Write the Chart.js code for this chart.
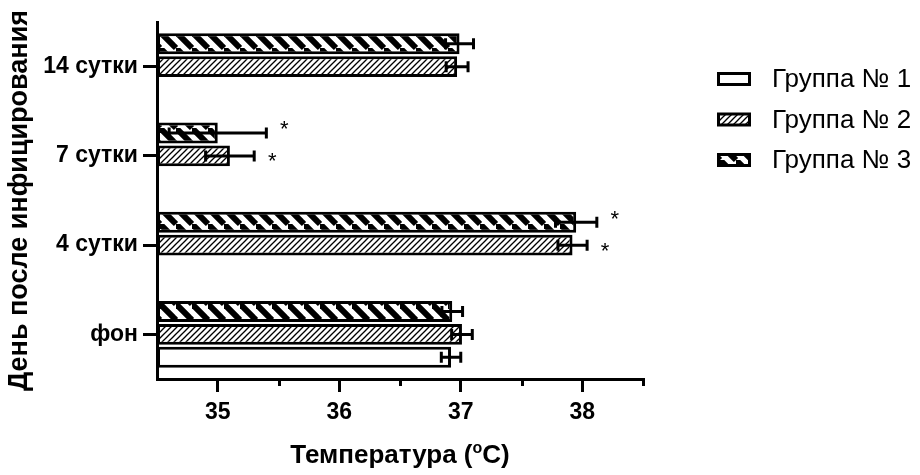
<!DOCTYPE html>
<html>
<head>
<meta charset="utf-8">
<script src="https://cdn.jsdelivr.net/npm/chart.js@4"></script>
<style>
  html, body { margin: 0; padding: 0; background: #fff; }
</style>
</head>
<body>
<canvas id="chart" width="920" height="475"></canvas>
<script>
// categories listed top to bottom
const categories = ['14 сутки', '7 сутки', '4 сутки', 'фон'];
const groupNames = ['Группа № 1', 'Группа № 2', 'Группа № 3'];

const group1 = [null, null, null, 36.92];
const group2 = [36.97, 35.10, 37.92, 37.01];
const group3 = [36.99, 35.00, 37.95, 36.93];

const group1Err = [null, null, null, 0.08];
const group2Err = [0.09, 0.20, 0.12, 0.085];
const group3Err = [0.115, 0.40, 0.17, 0.085];

// significance marks (*)
const group2Star = [false, true, true, false];
const group3Star = [false, true, true, false];

const xMin = 34.5;
const xMax = 38.5;
const xTicks = [35, 36, 37, 38];
const xMinorTicks = [35.5, 36.5, 37.5, 38.5];

const FONT = 'Arial, "Liberation Sans", sans-serif';

function makePattern(size, lineWidth, lines) {
    const c = document.createElement('canvas');
    c.width = size;
    c.height = size;
    const g = c.getContext('2d');
    g.fillStyle = '#fff';
    g.fillRect(0, 0, size, size);
    g.strokeStyle = '#000';
    g.lineWidth = lineWidth;
    lines.forEach(([x1, y1, x2, y2]) => {
        g.beginPath();
        g.moveTo(x1, y1);
        g.lineTo(x2, y2);
        g.stroke();
    });
    return g.createPattern(c, 'repeat');
}

// thin "/" hatch
const thinHatch = makePattern(6, 1.3, [[-6, 6, 6, -6], [0, 6, 6, 0], [0, 12, 12, 0]]);
// thick "\" stripes
const thickHatch = makePattern(16, 6, [[0, 0, 16, 16], [-16, 0, 0, 16], [0, -16, 16, 0]]);

const fills = ['#fff', thinHatch, thickHatch];

// datasets top to bottom inside a group: group 3, group 2, group 1
const series = [
    { idx: 2, values: group3, errors: group3Err, stars: group3Star },
    { idx: 1, values: group2, errors: group2Err, stars: group2Star },
    { idx: 0, values: group1, errors: group1Err, stars: null }
];

const extras = {
    id: 'extras',
    afterDatasetsDraw(chart) {
        const ctx = chart.ctx;
        const xs = chart.scales.x;
        ctx.save();
        ctx.strokeStyle = '#000';
        ctx.fillStyle = '#000';
        ctx.lineWidth = 3;
        series.forEach((s, di) => {
            const meta = chart.getDatasetMeta(di);
            s.values.forEach((v, i) => {
                if (v == null) return;
                const y = meta.data[i].y;
                const lo = xs.getPixelForValue(v - s.errors[i]);
                const hi = xs.getPixelForValue(v + s.errors[i]);
                ctx.beginPath();
                ctx.moveTo(lo, y);
                ctx.lineTo(hi, y);
                ctx.moveTo(lo, y - 5.5);
                ctx.lineTo(lo, y + 5.5);
                ctx.moveTo(hi, y - 5.5);
                ctx.lineTo(hi, y + 5.5);
                ctx.stroke();
                if (s.stars && s.stars[i]) {
                    ctx.font = '22px ' + FONT;
                    ctx.textAlign = 'center';
                    ctx.textBaseline = 'alphabetic';
                    const raise = s.idx === 2 ? 9 : 0;
                    ctx.fillText('*', hi + 18, y + 12.5 - raise);
                }
            });
        });
        ctx.restore();
    },
    afterDraw(chart) {
        const ctx = chart.ctx;
        const xs = chart.scales.x;
        const area = chart.chartArea;
        ctx.save();
        // minor ticks
        ctx.strokeStyle = '#000';
        ctx.lineWidth = 3;
        xMinorTicks.forEach(v => {
            const px = Math.round(xs.getPixelForValue(v)) + 0.5;
            ctx.beginPath();
            ctx.moveTo(px, area.bottom);
            ctx.lineTo(px, area.bottom + 7);
            ctx.stroke();
        });

        // x axis title with superscript
        ctx.fillStyle = '#000';
        ctx.textBaseline = 'alphabetic';
        ctx.textAlign = 'left';
        const bigFont = 'bold 26px ' + FONT;
        const supFont = 'bold 16px ' + FONT;
        const p1 = 'Температура (';
        const p2 = 'o';
        const p3 = 'C)';
        ctx.font = bigFont;
        const w1 = ctx.measureText(p1).width;
        const w3 = ctx.measureText(p3).width;
        ctx.font = supFont;
        const w2 = ctx.measureText(p2).width;
        const total = w1 + w2 + w3;
        let tx = (area.left + area.right) / 2 - total / 2;
        const ty = 463;
        ctx.font = bigFont;
        ctx.fillText(p1, tx, ty);
        tx += w1;
        ctx.font = supFont;
        ctx.fillText(p2, tx, ty - 10);
        tx += w2;
        ctx.font = bigFont;
        ctx.fillText(p3, tx, ty);

        // legend
        const legendX = 717;
        const legendY = [79, 119.5, 160];
        groupNames.forEach((name, i) => {
            const cy = legendY[i];
            ctx.fillStyle = '#000';
            ctx.fillRect(legendX, cy - 7, 34, 14);
            ctx.fillStyle = fills[i];
            ctx.fillRect(legendX + 3, cy - 4, 28, 8);
            ctx.fillStyle = '#000';
            ctx.font = '26px ' + FONT;
            ctx.textBaseline = 'middle';
            ctx.fillText(name, 772, cy + 1);
        });
        ctx.restore();
    }
};

const tickFont = { family: FONT, size: 23, weight: 'bold' };

new Chart(document.getElementById('chart').getContext('2d'), {
    type: 'bar',
    data: {
        labels: categories,
        datasets: series.map(s => ({
            label: groupNames[s.idx],
            data: s.values,
            base: xMin,
            backgroundColor: fills[s.idx],
            borderColor: '#000',
            borderWidth: 3,
            borderSkipped: false,
            categoryPercentage: 0.77,
            barPercentage: 0.91
        }))
    },
    options: {
        indexAxis: 'y',
        responsive: false,
        animation: false,
        layout: { padding: { top: 22, right: 277, left: 0, bottom: 0 } },
        plugins: {
            legend: { display: false },
            tooltip: { enabled: false }
        },
        scales: {
            x: {
                type: 'linear',
                min: xMin,
                max: xMax,
                afterBuildTicks: s => { s.ticks = xTicks.map(v => ({ value: v })); },
                afterFit: s => { s.height = 96; },
                grid: { drawOnChartArea: false, color: '#000', lineWidth: 3, tickLength: 13 },
                border: { color: '#000', width: 3 },
                ticks: { color: '#000', font: tickFont, padding: 7, maxRotation: 0 }
            },
            y: {
                afterFit: s => { s.width = 157; },
                grid: { drawOnChartArea: false, color: '#000', lineWidth: 3, tickLength: 14, offset: false },
                border: { color: '#000', width: 3 },
                ticks: { color: '#000', font: tickFont, padding: 5 },
                title: {
                    display: true,
                    text: 'День после инфицирования',
                    color: '#000',
                    font: { family: FONT, size: 27, weight: 'bold' },
                    padding: { top: 3, bottom: 0 }
                }
            }
        }
    },
    plugins: [extras]
});
</script>
</body>
</html>
